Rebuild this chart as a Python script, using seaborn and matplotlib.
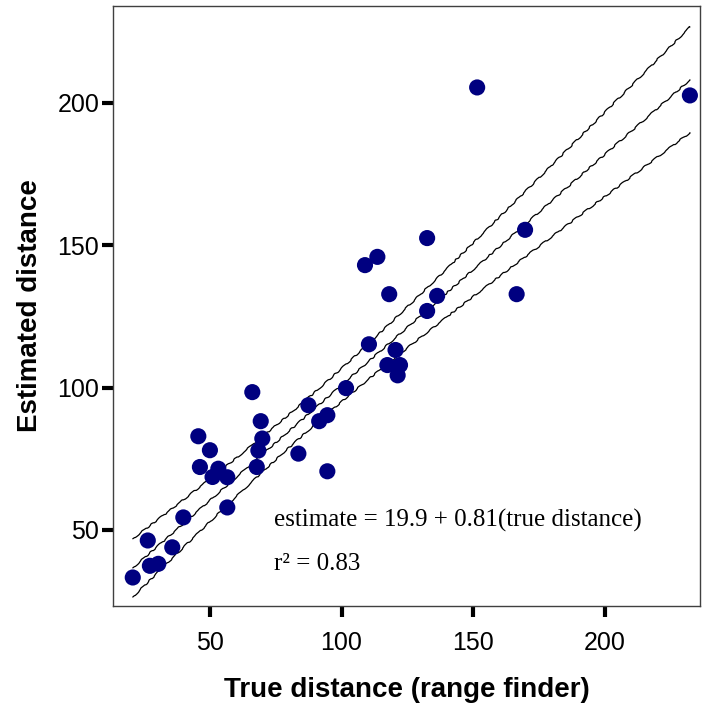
import numpy as np
import pandas as pd
import matplotlib
matplotlib.use("Agg")
import matplotlib.pyplot as plt
import seaborn as sns

true_distance = [20.7, 26.4, 27.2, 30.4, 35.7, 39.9, 45.6, 46.2, 50.0, 51.0,
                 53.2, 56.6, 56.6, 66.1, 69.3, 69.9, 68.4, 67.8, 83.6, 87.4,
                 91.5, 94.6, 94.6, 101.7, 110.4, 120.5, 117.4, 122.2, 121.3, 118.1,
                 108.9, 113.6, 132.5, 136.3, 132.5, 166.5, 169.7, 151.5, 232.3]
estimated_distance = [33.3, 46.3, 37.4, 38.1, 43.9, 54.4, 82.9, 72.1, 78.0, 68.6,
                      71.5, 68.5, 57.9, 98.4, 88.2, 82.1, 77.9, 72.1, 76.8, 93.8,
                      88.2, 90.3, 70.6, 99.8, 115.2, 113.2, 107.9, 107.9, 104.3, 132.8,
                      143.0, 145.9, 152.5, 132.2, 126.9, 132.8, 155.4, 205.4, 202.6]
fit_intercept = 19.9
fit_slope = 0.81
x_ticks = [50, 100, 150, 200]
y_ticks = [50, 100, 150, 200]
equation_text = "estimate = 19.9 + 0.81(true distance)"
r2_text = "r\u00b2 = 0.83"

df = pd.DataFrame({"true": true_distance, "est": estimated_distance})

sns.set_theme(style="white")
plt.rcParams["font.family"] = ["Liberation Sans", "DejaVu Sans"]
plt.rcParams["text.color"] = "black"
plt.rcParams["axes.labelcolor"] = "black"
plt.rcParams["xtick.color"] = "black"
plt.rcParams["ytick.color"] = "black"

fig = plt.figure(figsize=(7.02, 7.07), dpi=100)
ax = fig.add_axes([0.161, 0.1429, 0.836, 0.8486])

# reported fit line and 95% CI of the mean (residual spread from the data)
x = df["true"].to_numpy()
y = df["est"].to_numpy()
n = len(x)
xs = np.linspace(x.min(), x.max(), 200)
pred = fit_intercept + fit_slope * xs
resid = y - (fit_intercept + fit_slope * x)
s = np.sqrt(np.sum(resid ** 2) / (n - 2))
sxx = np.sum((x - x.mean()) ** 2)
se = s * np.sqrt(1.0 / n + (xs - x.mean()) ** 2 / sxx)
tcrit = 2.026
lines = pd.DataFrame({"x": np.concatenate([xs, xs, xs]),
                      "y": np.concatenate([pred, pred + tcrit * se, pred - tcrit * se]),
                      "which": ["fit"] * len(xs) + ["upper"] * len(xs) + ["lower"] * len(xs)})

sns.lineplot(data=lines, x="x", y="y", units="which", estimator=None,
             color="black", linewidth=0.9, ax=ax, legend=False)
for ln in ax.get_lines():
    ln.set_sketch_params(scale=0.7, length=18, randomness=4)

sns.scatterplot(data=df, x="true", y="est", color="#000080", s=135,
                edgecolor="none", ax=ax, zorder=3)

ax.set_xlim(13.2, 236.1)
ax.set_ylim(23.3, 234.0)
ax.set_xticks(x_ticks)
ax.set_yticks(y_ticks)
ax.tick_params(axis="both", which="major", direction="out", length=8, width=3,
               labelsize=18, pad=2, bottom=True, left=True)
ax.tick_params(axis="x", pad=10)
for sp in ax.spines.values():
    sp.set_color("#404040")
    sp.set_linewidth(1.0)

ax.set_xlabel("True distance (range finder)", fontsize=20, fontweight="bold", labelpad=16)
ax.set_ylabel("Estimated distance", fontsize=20, fontweight="bold", labelpad=10)

ax.text(74.3, 53.3, equation_text, fontsize=18, family=["Liberation Serif", "DejaVu Serif"],
        va="center", ha="left")
ax.text(74.3, 38.2, r2_text, fontsize=18, family=["Liberation Serif", "DejaVu Serif"],
        va="center", ha="left")

fig.savefig("out.png", dpi=100)
